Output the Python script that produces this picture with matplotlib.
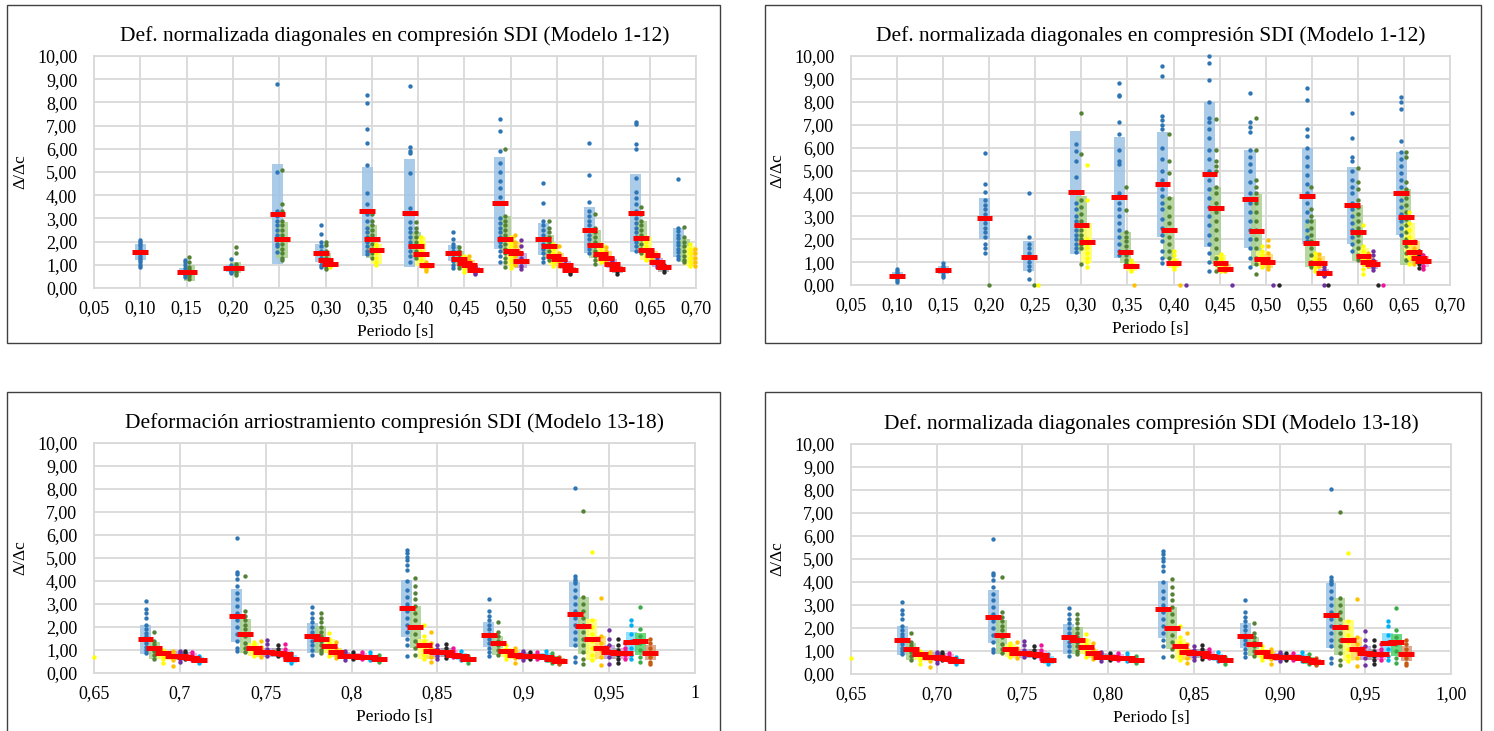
import matplotlib
matplotlib.use("Agg")
import matplotlib.pyplot as plt
from matplotlib.patches import Rectangle

plt.rcParams['font.family'] = ['Liberation Serif', 'DejaVu Serif']

# colour of points and of the box behind them, per series type
point_colors = {'blue': '#2E75B6', 'green': '#548235', 'yellow': '#FFFF00', 'orange': '#FFC000',
                'purple': '#7030A0', 'black': '#262626', 'magenta': '#F0149B', 'cyan': '#00B0F0',
                'lime': '#3BAA4B', 'brown': '#C55A11'}
box_colors = {'blue': '#9DC3E6', 'green': '#A9D18E', 'yellow': '#FFFF66', 'orange': '#FFD966',
              'purple': '#C3A0E0', 'black': '#A6A6A6', 'magenta': '#F4A6D7', 'cyan': '#7FDBFF',
              'lime': '#4FD36A', 'brown': '#D99A7A'}

# ---------------- top-left: Modelo 1-12 ----------------
tl_x = [0.100, 0.148, 0.153, 0.198, 0.203, 0.248, 0.253, 0.295, 0.300, 0.305,
        0.345, 0.350, 0.355, 0.391, 0.3975, 0.403, 0.409, 0.438, 0.444, 0.450,
        0.455, 0.461, 0.488, 0.494, 0.500, 0.505, 0.511, 0.535, 0.541, 0.546,
        0.552, 0.559, 0.564, 0.585, 0.591, 0.597, 0.603, 0.609, 0.615, 0.635,
        0.641, 0.646, 0.653, 0.658, 0.665, 0.681, 0.687, 0.693, 0.699]
tl_kind = ['blue', 'blue', 'green', 'blue', 'green', 'blue', 'green', 'blue', 'green', 'yellow',
           'blue', 'green', 'yellow', 'blue', 'green', 'yellow', 'orange', 'blue', 'green', 'yellow',
           'orange', 'purple', 'blue', 'green', 'yellow', 'orange', 'purple', 'blue', 'green', 'yellow',
           'orange', 'purple', 'black', 'blue', 'green', 'yellow', 'orange', 'purple', 'black', 'blue',
           'green', 'yellow', 'orange', 'purple', 'black', 'blue', 'green', 'yellow', 'orange']
tl_mean = [1.55, 0.70, 0.70, 0.88, 0.87, 3.20, 2.10, 1.50, 1.20, 1.05,
           3.32, 2.11, 1.65, 3.25, 1.82, 1.48, 1.00, 1.50, 1.26, 1.08,
           1.00, 0.78, 3.65, 2.11, 1.60, 1.50, 1.17, 2.11, 1.82, 1.40,
           1.23, 1.00, 0.79, 2.51, 1.86, 1.48, 1.31, 1.05, 0.82, 3.25,
           2.17, 1.65, 1.42, 1.13, 0.90, None, None, None, None]
tl_lo = [1.20, 0.55, 0.30, 0.70, 0.65, 1.05, 1.30, 1.10, 0.90, 0.90,
         1.39, 1.30, 1.05, 0.92, 1.30, 0.95, 0.80, 1.16, 0.95, 0.85,
         0.80, 0.65, 1.67, 1.50, 1.00, 1.00, 0.85, 1.42, 1.30, 1.00,
         0.95, 0.80, 0.65, 1.50, 1.30, 1.10, 1.05, 0.85, 0.65, 1.57,
         1.50, 1.20, 1.10, 0.90, 0.70, 1.35, 1.10, 0.95, 0.95]
tl_hi = [1.90, 0.85, 1.00, 1.00, 1.10, 5.35, 2.85, 1.88, 1.50, 1.12,
         5.20, 2.70, 1.90, 5.56, 2.40, 2.20, 1.05, 1.84, 1.60, 1.30,
         1.20, 0.90, 5.63, 3.10, 2.20, 2.00, 1.50, 2.80, 2.30, 1.90,
         1.50, 1.15, 0.90, 3.50, 2.50, 1.90, 1.60, 1.25, 0.95, 4.90,
         2.90, 2.20, 1.60, 1.30, 1.00, 2.57, 2.10, 1.80, 1.70]
tl_pts = [
    [0.92, 1.0, 1.1, 1.2, 1.3, 1.4, 1.5, 1.6, 1.7, 1.8, 1.9, 2.0, 2.07],
    [0.49, 0.55, 0.6, 0.65, 0.7, 0.75, 0.85, 1.0, 1.1, 1.2],
    [0.4, 0.5, 0.6, 0.7, 0.8, 0.9, 1.1, 1.33],
    [0.65, 0.7, 0.75, 0.8, 0.9, 1.0, 1.27],
    [0.57, 0.65, 0.75, 0.85, 0.95, 1.05, 1.5, 1.75],
    [8.8, 5.0, 3.3, 3.1, 2.9, 2.7, 2.5, 2.3, 2.1, 1.9, 1.8, 1.55],
    [5.1, 3.6, 3.3, 2.9, 2.7, 2.5, 2.3, 2.1, 1.9, 1.7, 1.5, 1.3, 1.2],
    [2.7, 2.33, 2.0, 1.8, 1.6, 1.45, 1.3, 1.15, 1.0, 0.92],
    [2.0, 1.85, 1.6, 1.45, 1.3, 1.2, 1.1, 1.0, 0.9, 0.8],
    [1.15, 1.05, 0.95, 0.9],
    [8.3, 7.96, 6.87, 6.23, 5.3, 4.08, 3.62, 3.2, 2.9, 2.6, 2.4, 2.2, 2.0, 1.8, 1.6, 1.45],
    [3.2, 2.9, 2.7, 2.5, 2.3, 2.1, 1.9, 1.7, 1.5, 1.3],
    [1.9, 1.8, 1.7, 1.5, 1.3, 1.1, 0.98],
    [8.72, 6.09, 5.9, 5.8, 4.94, 3.43, 2.86, 2.6, 2.4, 2.2, 2.0, 1.8, 1.6, 1.4, 1.14],
    [2.86, 2.6, 2.4, 2.2, 2.0, 1.8, 1.6, 1.45, 1.3],
    [2.2, 2.0, 1.8, 1.6, 1.4, 1.2, 1.0],
    [1.1, 1.0, 0.9, 0.82, 0.75],
    [2.4, 2.12, 1.9, 1.75, 1.6, 1.45, 1.3, 1.15, 1.0, 0.86],
    [1.75, 1.6, 1.45, 1.3, 1.15, 1.0, 0.85],
    [1.4, 1.25, 1.1, 0.95, 0.8, 0.7],
    [1.38, 1.2, 1.05, 0.9, 0.8],
    [0.95, 0.85, 0.75, 0.65, 0.6],
    [7.3, 6.77, 5.9, 5.4, 5.0, 4.6, 4.3, 3.93, 3.0, 2.8, 2.6, 2.4, 2.2, 2.0, 1.8, 1.6, 1.4, 1.14],
    [6.0, 3.1, 2.9, 2.7, 2.5, 2.3, 2.1, 1.9, 1.7, 1.5, 1.3, 1.1, 0.9],
    [2.2, 2.0, 1.8, 1.6, 1.4, 1.2, 1.0, 0.85],
    [2.3, 2.0, 1.8, 1.6, 1.4, 1.2, 1.0],
    [2.05, 1.8, 1.5, 1.3, 1.1, 0.95, 0.8],
    [4.53, 3.66, 2.89, 2.7, 2.5, 2.3, 2.1, 1.9, 1.7, 1.5, 1.3, 1.14],
    [2.9, 2.6, 2.4, 2.2, 2.0, 1.8, 1.6, 1.4, 1.2],
    [1.9, 1.7, 1.5, 1.3, 1.1, 0.95],
    [1.8, 1.5, 1.3, 1.1, 0.95],
    [1.2, 1.05, 0.9, 0.8],
    [0.9, 0.8, 0.7, 0.6],
    [6.26, 4.87, 3.7, 3.3, 3.1, 2.9, 2.7, 2.5, 2.3, 2.1, 1.9, 1.7, 1.5],
    [3.2, 2.6, 2.4, 2.2, 2.0, 1.8, 1.6, 1.4, 1.2, 1.05],
    [1.9, 1.75, 1.6, 1.45, 1.3, 1.1],
    [1.75, 1.6, 1.4, 1.2, 1.05],
    [1.3, 1.15, 1.0, 0.85],
    [0.95, 0.85, 0.75, 0.62],
    [7.15, 7.05, 6.2, 6.0, 4.76, 4.12, 3.9, 3.6, 3.3, 3.0, 2.8, 2.6, 2.4, 2.2, 2.0, 1.8, 1.6],
    [3.5, 3.2, 2.9, 2.7, 2.5, 2.3, 2.1, 1.9, 1.7, 1.5],
    [2.2, 2.0, 1.8, 1.6, 1.4, 1.2],
    [1.6, 1.45, 1.3, 1.15],
    [1.35, 1.2, 1.05, 0.9],
    [1.0, 0.9, 0.8, 0.68],
    [4.7, 2.6, 2.45, 2.3, 2.15, 2.0, 1.85, 1.7, 1.55, 1.4, 1.25],
    [2.65, 2.2, 2.0, 1.8, 1.6, 1.4, 1.2, 1.1],
    [1.9, 1.7, 1.5, 1.3, 1.1, 0.95],
    [1.7, 1.5, 1.3, 1.1, 0.95],
]

# ---------------- top-right: Modelo 1-12 ----------------
tr_x = [0.100, 0.150, 0.195, 0.200, 0.243, 0.249, 0.253, 0.294, 0.300, 0.306,
        0.341, 0.348, 0.354, 0.357, 0.388, 0.395, 0.400, 0.407, 0.413, 0.439,
        0.446, 0.451, 0.456, 0.463, 0.483, 0.490, 0.496, 0.502, 0.508, 0.514,
        0.545, 0.549, 0.554, 0.558, 0.563, 0.568, 0.594, 0.600, 0.606, 0.611,
        0.616, 0.622, 0.627, 0.647, 0.652, 0.656, 0.661, 0.666, 0.671]
tr_kind = ['blue', 'blue', 'blue', 'green', 'blue', 'green', 'yellow', 'blue', 'green', 'yellow',
           'blue', 'green', 'yellow', 'orange', 'blue', 'green', 'yellow', 'orange', 'purple', 'blue',
           'green', 'yellow', 'orange', 'purple', 'blue', 'green', 'yellow', 'orange', 'purple', 'black',
           'blue', 'green', 'yellow', 'orange', 'purple', 'black', 'blue', 'green', 'yellow', 'orange',
           'purple', 'black', 'magenta', 'blue', 'green', 'yellow', 'orange', 'black', 'magenta']
tr_mean = [0.39, 0.65, 2.91, None, 1.24, None, None, 4.04, 2.61, 1.86,
           3.83, 1.44, 0.82, None, 4.42, 2.40, 0.96, None, None, 4.85,
           3.38, 0.95, 0.71, None, 3.77, 2.36, 1.15, 1.00, None, None,
           3.90, 1.85, 0.97, 0.97, 0.54, None, 3.48, 2.30, 1.28, 1.00,
           0.91, None, None, 4.00, 2.96, 1.89, 1.43, 1.20, 1.05]
tr_lo = [0.25, 0.50, 2.00, None, 0.60, None, None, 1.34, 1.50, 0.97,
         1.20, 0.97, 0.60, None, 2.11, 1.13, 0.75, None, None, 1.68,
         0.90, 0.70, 0.55, None, 1.60, 0.83, 0.85, 0.75, None, None,
         1.80, 0.80, 0.70, 0.75, 0.40, None, 1.79, 1.06, 1.05, 0.80,
         0.70, None, None, 2.18, 0.87, 1.20, 0.90, 0.90, 0.80]
tr_hi = [0.55, 0.85, 3.80, None, 1.90, None, None, 6.72, 3.88, 2.70,
         6.47, 2.30, 1.00, None, 6.68, 3.86, 1.20, None, None, 8.00,
         4.30, 1.30, 0.90, None, 5.90, 3.96, 1.50, 1.35, None, None,
         6.00, 2.87, 1.30, 1.25, 0.70, None, 5.17, 3.50, 1.60, 1.30,
         1.10, None, None, 5.80, 4.20, 2.70, 1.90, 1.40, 1.25]
tr_pts = [
    [0.14, 0.22, 0.3, 0.38, 0.45, 0.52, 0.6, 0.68],
    [0.34, 0.45, 0.55, 0.65, 0.75, 0.85, 0.96],
    [5.75, 4.4, 4.04, 3.7, 3.5, 3.3, 3.1, 2.9, 2.7, 2.5, 2.3, 2.1, 1.8, 1.6, 1.4],
    [0.0],
    [4.03, 2.1, 1.8, 1.6, 1.4, 1.2, 1.0, 0.85, 0.65, 0.27],
    [0.0],
    [0.0],
    [6.15, 5.85, 5.4, 4.7, 3.6, 3.3, 3.0, 2.8, 2.6, 2.4, 2.2, 2.0, 1.8, 1.6, 1.45],
    [7.5, 5.7, 3.7, 3.4, 3.1, 2.8, 2.6, 2.4, 2.2, 2.0, 1.8, 1.6, 0.9],
    [5.25, 3.7, 2.0, 1.8, 1.6, 1.4, 1.2, 1.0, 0.8],
    [8.8, 8.3, 8.25, 7.1, 6.6, 5.9, 5.4, 5.3, 4.0, 3.6, 3.3, 3.0, 2.7, 2.4, 2.1, 1.8, 1.5, 1.3],
    [4.3, 3.28, 2.3, 2.1, 1.9, 1.7, 1.5, 1.3, 1.1, 0.97],
    [1.1, 0.95, 0.85, 0.75, 0.6],
    [0.0],
    [9.55, 9.13, 7.4, 7.2, 7.0, 6.8, 6.0, 5.5, 5.0, 4.6, 4.2, 3.9, 3.6, 3.3, 2.9, 2.5, 2.2, 1.9, 1.5, 1.2, 0.95],
    [6.6, 5.4, 4.9, 3.8, 3.4, 3.0, 2.7, 2.4, 2.1, 1.8, 1.5, 1.2],
    [1.5, 1.3, 1.1, 0.95, 0.8, 0.7],
    [0.0],
    [0.0],
    [10.0, 9.7, 8.95, 8.0, 7.3, 7.1, 6.8, 6.4, 5.9, 5.5, 5.0, 4.6, 4.2, 3.8, 3.4, 3.0, 2.6, 2.2, 1.8, 1.4, 1.0, 0.6],
    [7.25, 5.9, 5.4, 5.2, 5.0, 4.3, 4.0, 3.6, 3.2, 2.8, 2.4, 2.0, 1.6, 1.2, 0.9, 0.6],
    [1.35, 1.2, 1.05, 0.9, 0.75, 0.6],
    [0.9, 0.8, 0.7, 0.6],
    [0.0],
    [8.4, 7.1, 6.9, 6.7, 5.9, 5.6, 5.3, 5.0, 4.5, 4.0, 3.6, 3.2, 2.8, 2.4, 2.0, 1.6, 1.2, 0.8],
    [7.3, 5.9, 4.6, 4.3, 4.0, 3.6, 3.2, 2.8, 2.4, 2.0, 1.6, 1.2, 0.9, 0.5],
    [1.7, 1.5, 1.3, 1.1, 0.95, 0.8],
    [1.95, 1.7, 1.4, 1.2, 1.0, 0.85, 0.7],
    [0.0],
    [0.0],
    [8.6, 8.1, 6.8, 6.5, 6.0, 5.6, 5.2, 4.8, 4.4, 4.0, 3.6, 3.2, 2.8, 2.4, 2.1, 1.9],
    [4.28, 3.3, 3.0, 2.8, 2.5, 2.2, 1.9, 1.6, 1.3, 1.0, 0.8],
    [1.4, 1.2, 1.05, 0.9, 0.75, 0.6],
    [1.35, 1.15, 1.0, 0.85],
    [0.8, 0.65, 0.55, 0.45, 0.38, 0.0],
    [0.0],
    [7.5, 6.4, 5.6, 5.4, 5.0, 4.6, 4.3, 4.0, 3.6, 3.3, 3.0, 2.7, 2.4, 2.1, 1.8, 1.5],
    [5.1, 4.5, 4.2, 3.7, 3.4, 3.1, 2.8, 2.5, 2.2, 1.9, 1.6, 1.3, 1.1],
    [2.6, 1.7, 1.5, 1.3, 1.1, 0.9, 0.7, 0.5],
    [1.4, 1.2, 1.0, 0.85],
    [1.5, 1.3, 1.1, 0.95, 0.8, 0.65],
    [0.0],
    [0.0],
    [8.2, 8.0, 7.7, 6.3, 5.8, 5.5, 5.2, 4.9, 4.6, 4.3, 4.0, 3.7, 3.4, 3.1, 2.8, 2.5, 2.2],
    [5.8, 5.6, 4.5, 4.2, 3.8, 3.5, 3.2, 2.9, 2.6, 2.3, 2.0, 1.7, 1.4, 1.1],
    [3.2, 2.7, 2.4, 2.1, 1.8, 1.5, 1.2, 0.9],
    [1.9, 1.6, 1.35, 1.1, 0.9],
    [1.5, 1.3, 1.1, 0.9, 0.75],
    [1.3, 1.15, 1.0, 0.85, 0.7],
]

# ---------------- bottom (both panels): Modelo 13-18 ----------------
b_x = [0.650,
       0.680, 0.685, 0.690, 0.696, 0.700, 0.703, 0.707, 0.711,
       0.733, 0.738, 0.743, 0.747, 0.751, 0.757, 0.761, 0.765,
       0.777, 0.782, 0.787, 0.791, 0.796, 0.801, 0.806, 0.811, 0.816,
       0.832, 0.837, 0.842, 0.846, 0.850, 0.855, 0.859, 0.864, 0.868,
       0.880, 0.885, 0.890, 0.895, 0.900, 0.904, 0.908, 0.913, 0.917, 0.921,
       0.930, 0.935, 0.940, 0.945, 0.950, 0.955, 0.959, 0.963, 0.968, 0.974]
b_kind = ['yellow',
          'blue', 'green', 'yellow', 'orange', 'purple', 'black', 'magenta', 'cyan',
          'blue', 'green', 'yellow', 'orange', 'purple', 'black', 'magenta', 'cyan',
          'blue', 'green', 'yellow', 'orange', 'purple', 'black', 'magenta', 'cyan', 'lime',
          'blue', 'green', 'yellow', 'orange', 'purple', 'black', 'magenta', 'cyan', 'lime',
          'blue', 'green', 'yellow', 'orange', 'purple', 'black', 'magenta', 'cyan', 'lime', 'brown',
          'blue', 'green', 'yellow', 'orange', 'purple', 'black', 'magenta', 'cyan', 'lime', 'brown']
b_mean = [None,
          1.47, 1.08, 0.85, 0.76, 0.73, 0.70, 0.65, 0.58,
          2.49, 1.71, 1.08, 0.90, 0.90, 0.88, 0.84, 0.60,
          1.62, 1.50, 1.18, 0.90, 0.75, 0.72, 0.70, 0.68, 0.60,
          2.83, 2.00, 1.22, 0.95, 0.92, 0.90, 0.80, 0.72, 0.60,
          1.67, 1.29, 0.95, 0.80, 0.75, 0.73, 0.72, 0.70, 0.62, 0.53,
          2.57, 2.05, 1.47, 1.10, 0.92, 0.87, 0.87, 1.36, 1.38, 0.87]
b_lo = [None,
        0.84, 0.62, 0.60, 0.55, 0.55, 0.60, 0.55, 0.45,
        1.35, 0.86, 0.75, 0.70, 0.70, 0.70, 0.65, 0.45,
        0.87, 0.85, 0.85, 0.70, 0.60, 0.60, 0.60, 0.55, 0.50,
        1.57, 1.08, 0.60, 0.60, 0.70, 0.70, 0.65, 0.55, 0.50,
        1.15, 0.80, 0.70, 0.60, 0.55, 0.60, 0.60, 0.55, 0.45, 0.40,
        1.14, 0.82, 0.56, 0.60, 0.60, 0.60, 0.60, 0.90, 0.80, 0.55]
b_hi = [None,
        2.07, 1.35, 1.00, 0.95, 0.95, 0.90, 0.85, 0.70,
        3.64, 2.35, 1.30, 1.10, 1.10, 1.10, 1.05, 0.80,
        2.18, 2.05, 1.50, 1.10, 0.90, 0.85, 0.85, 0.80, 0.70,
        4.03, 2.90, 1.50, 1.10, 1.10, 1.10, 1.00, 0.85, 0.70,
        2.20, 1.60, 1.10, 1.00, 0.90, 0.85, 0.85, 0.85, 0.75, 0.65,
        3.97, 3.30, 2.33, 1.60, 1.20, 1.10, 1.10, 1.78, 1.75, 1.20]
b_pts = [
    [0.68],
    [3.13, 2.8, 2.6, 2.4, 2.1, 1.9, 1.75, 1.6, 1.45, 1.3, 1.15, 1.0, 0.85],
    [1.8, 1.4, 1.25, 1.1, 0.95, 0.8, 0.62],
    [1.0, 0.9, 0.75, 0.6, 0.45],
    [0.95, 0.85, 0.7, 0.55, 0.3],
    [0.95, 0.85, 0.75, 0.62, 0.5],
    [0.95, 0.85, 0.72, 0.6],
    [0.9, 0.8, 0.7, 0.55],
    [0.75, 0.65, 0.55, 0.42],
    [5.85, 4.4, 4.3, 4.1, 3.8, 3.5, 3.2, 2.9, 2.6, 2.3, 2.0, 1.7, 1.4, 1.1, 0.95],
    [4.2, 2.7, 2.5, 2.3, 2.1, 1.9, 1.6, 1.3, 1.1, 0.9],
    [1.35, 1.2, 1.05, 0.9, 0.75],
    [1.4, 1.15, 1.0, 0.85, 0.7],
    [1.45, 1.25, 1.05, 0.9, 0.75],
    [1.2, 1.05, 0.9, 0.75],
    [1.25, 1.05, 0.9, 0.75, 0.65],
    [0.85, 0.7, 0.55, 0.45],
    [2.85, 2.6, 2.4, 2.2, 2.0, 1.8, 1.6, 1.4, 1.2, 1.0, 0.8],
    [2.6, 2.4, 2.2, 2.0, 1.8, 1.6, 1.4, 1.2, 1.0, 0.85],
    [1.75, 1.5, 1.3, 1.1, 0.9, 0.75],
    [1.35, 1.1, 0.95, 0.8, 0.65],
    [0.95, 0.85, 0.7, 0.55],
    [0.9, 0.8, 0.7, 0.6],
    [0.9, 0.8, 0.7, 0.6],
    [0.9, 0.8, 0.65, 0.55],
    [0.8, 0.65, 0.5],
    [5.33, 5.2, 5.05, 4.9, 4.7, 4.5, 4.0, 3.6, 3.3, 3.0, 2.7, 2.4, 2.1, 1.8, 1.5, 1.2, 0.75],
    [4.15, 3.8, 3.5, 3.2, 2.9, 2.6, 2.3, 2.0, 1.7, 1.4, 1.1, 0.8],
    [2.1, 1.6, 1.4, 1.2, 1.0, 0.8, 0.6],
    [1.8, 1.3, 1.1, 0.9, 0.7, 0.5],
    [1.2, 1.05, 0.9, 0.75, 0.6],
    [1.25, 1.1, 0.95, 0.8, 0.65],
    [1.1, 0.95, 0.8, 0.7],
    [0.95, 0.8, 0.7, 0.55],
    [0.75, 0.6, 0.45],
    [3.2, 2.7, 2.5, 2.3, 2.1, 1.9, 1.7, 1.5, 1.3, 1.1, 0.9, 0.75],
    [2.2, 1.8, 1.6, 1.4, 1.2, 1.0, 0.8],
    [1.2, 1.05, 0.9, 0.75, 0.6],
    [1.1, 0.95, 0.8, 0.65, 0.45],
    [0.95, 0.85, 0.7, 0.55],
    [0.9, 0.8, 0.7, 0.6],
    [0.9, 0.8, 0.7, 0.6],
    [0.95, 0.8, 0.65, 0.55],
    [0.85, 0.7, 0.55, 0.42],
    [0.7, 0.55, 0.45, 0.38],
    [8.05, 4.2, 4.1, 4.0, 3.9, 3.6, 3.3, 3.0, 2.7, 2.4, 2.1, 1.8, 1.5, 1.2, 0.7, 0.5],
    [7.05, 3.3, 3.0, 2.7, 2.4, 2.1, 1.8, 1.5, 1.2, 0.9, 0.6, 0.38],
    [5.27, 2.3, 2.0, 1.7, 1.4, 1.1, 0.8, 0.56],
    [3.26, 1.6, 1.3, 1.0, 0.7, 0.35],
    [1.85, 1.5, 1.2, 0.95, 0.7, 0.4],
    [1.5, 1.2, 1.0, 0.8, 0.6, 0.45],
    [1.3, 1.1, 0.95, 0.8, 0.6],
    [2.3, 2.1, 1.7, 1.4, 1.1, 0.8, 0.6],
    [2.85, 1.9, 1.6, 1.3, 1.0, 0.7, 0.5],
    [1.5, 1.3, 1.1, 0.9, 0.7, 0.5, 0.38],
]

top_ticks = [0.05, 0.10, 0.15, 0.20, 0.25, 0.30, 0.35, 0.40, 0.45, 0.50, 0.55, 0.60, 0.65, 0.70]
top_labels = ['0,05', '0,10', '0,15', '0,20', '0,25', '0,30', '0,35', '0,40', '0,45', '0,50',
              '0,55', '0,60', '0,65', '0,70']
bot_ticks = [0.65, 0.70, 0.75, 0.80, 0.85, 0.90, 0.95, 1.00]
bl_labels = ['0,65', '0,7', '0,75', '0,8', '0,85', '0,9', '0,95', '1']
br_labels = ['0,65', '0,70', '0,75', '0,80', '0,85', '0,90', '0,95', '1,00']
y_ticks = [0, 1, 2, 3, 4, 5, 6, 7, 8, 9, 10]
y_labels = ['0,00', '1,00', '2,00', '3,00', '4,00', '5,00', '6,00', '7,00', '8,00', '9,00', '10,00']

titles = ['Def. normalizada diagonales en compresión SDI (Modelo 1-12)',
          'Def. normalizada diagonales en compresión SDI (Modelo 1-12)',
          'Deformación arriostramiento compresión SDI (Modelo 13-18)',
          'Def. normalizada diagonales compresión SDI (Modelo 13-18)']


def draw_panel(ax, xs, kinds, means, los, his, pts, box_w, bar_w):
    # light box behind each series, then the points, then the red mean bar
    for x, k, lo, hi in zip(xs, kinds, los, his):
        if lo is not None:
            ax.bar(x, hi - lo, bottom=lo, width=box_w, color=box_colors[k], alpha=0.85,
                   zorder=2, linewidth=0)
    for x, k, p in zip(xs, kinds, pts):
        ax.scatter([x] * len(p), p, s=10, color=point_colors[k], zorder=3, linewidths=0,
                   clip_on=False)
    for x, m in zip(xs, means):
        if m is not None:
            ax.hlines(m, x - bar_w / 2, x + bar_w / 2, colors='#FF0000', lw=3.6, zorder=4)


def style_axes(ax, xlim, ticks, labels, title):
    ax.set_xlim(xlim)
    ax.set_ylim(0, 10)
    ax.set_xticks(ticks)
    ax.set_xticklabels(labels)
    ax.set_yticks(y_ticks)
    ax.set_yticklabels(y_labels)
    ax.grid(True, color='#D9D9D9', lw=1.3, zorder=0)
    ax.set_axisbelow(True)
    for s in ax.spines.values():
        s.set_color('#D9D9D9')
        s.set_linewidth(1.3)
    ax.tick_params(length=0, labelsize=13)
    ax.tick_params(axis='y', pad=12)
    ax.tick_params(axis='x', pad=9)
    ax.set_title(title, fontsize=15.5, pad=11)
    ax.set_xlabel('Periodo [s]', fontsize=12.5, labelpad=5)
    ax.set_ylabel('Δ/Δc', fontsize=12.5, labelpad=6)


fig = plt.figure(figsize=(14.94, 7.31), dpi=100)
W, H = 1494, 731


def add_axes_px(x0, y0, x1, y1):
    return fig.add_axes([x0 / W, 1 - y1 / H, (x1 - x0) / W, (y1 - y0) / H])


# chart frames
for fx0, fy0, fx1, fy1 in [(7, 5, 720, 343), (765, 5, 1481, 343), (7, 392, 720, 740), (765, 392, 1481, 740)]:
    fig.patches.append(Rectangle((fx0 / W, 1 - fy1 / H), (fx1 - fx0) / W, (fy1 - fy0) / H,
                                 transform=fig.transFigure, fill=False, edgecolor='#404040', lw=1))

ax1 = add_axes_px(94, 56, 696, 288)
draw_panel(ax1, tl_x, tl_kind, tl_mean, tl_lo, tl_hi, tl_pts, 0.012, 0.017)
style_axes(ax1, (0.05, 0.70), top_ticks, top_labels, titles[0])

ax2 = add_axes_px(851, 56, 1450, 285)
draw_panel(ax2, tr_x, tr_kind, tr_mean, tr_lo, tr_hi, tr_pts, 0.012, 0.017)
style_axes(ax2, (0.05, 0.70), top_ticks, top_labels, titles[1])

ax3 = add_axes_px(94, 443, 695, 673)
draw_panel(ax3, b_x, b_kind, b_mean, b_lo, b_hi, b_pts, 0.0064, 0.0093)
style_axes(ax3, (0.65, 1.0), bot_ticks, bl_labels, titles[2])

ax4 = add_axes_px(851, 444, 1451, 674)
draw_panel(ax4, b_x, b_kind, b_mean, b_lo, b_hi, b_pts, 0.0064, 0.0093)
style_axes(ax4, (0.65, 1.0), bot_ticks, br_labels, titles[3])

fig.savefig('out.png', dpi=100)
